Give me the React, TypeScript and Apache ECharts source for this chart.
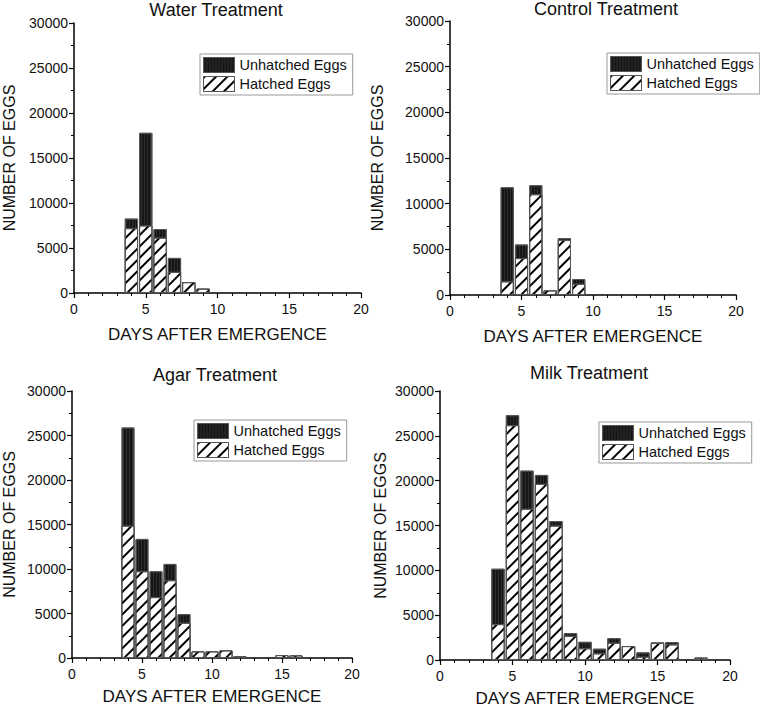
import React, { useEffect, useRef } from "react";
import * as echarts from "echarts";

const titles = ["Water Treatment", "Control Treatment", "Agar Treatment", "Milk Treatment"];
const legendNames = ["Unhatched Eggs", "Hatched Eggs"];
const yTicks = [0, 5000, 10000, 15000, 20000, 25000, 30000];
const xTicks = [0, 5, 10, 15, 20];

const waterDays = [4, 5, 6, 7, 8, 9];
const waterHatched = [7200, 7500, 6150, 2350, 1200, 480];
const waterUnhatched = [1070, 10300, 960, 1550, 0, 0];

const controlDays = [4, 5, 6, 7, 8, 9];
const controlHatched = [1490, 4040, 11030, 500, 6040, 1230];
const controlUnhatched = [10310, 1490, 990, 0, 190, 520];

const agarDays = [4, 5, 6, 7, 8, 9, 10, 11, 12, 15, 16];
const agarHatched = [14870, 9750, 6840, 8740, 3960, 740, 740, 850, 0, 330, 290];
const agarUnhatched = [11030, 3630, 2910, 1830, 970, 0, 0, 0, 220, 0, 0];

const milkDays = [4, 5, 6, 7, 8, 9, 10, 11, 12, 13, 14, 15, 16, 18];
const milkHatched = [4000, 26190, 16870, 19640, 14980, 2700, 1300, 740, 1920, 1550, 370, 1900, 1740, 260];
const milkUnhatched = [6180, 1110, 4250, 1000, 520, 300, 730, 520, 520, 0, 480, 60, 260, 0];

const panelData = [
  { days: waterDays, hatched: waterHatched, unhatched: waterUnhatched },
  { days: controlDays, hatched: controlHatched, unhatched: controlUnhatched },
  { days: agarDays, hatched: agarHatched, unhatched: agarUnhatched },
  { days: milkDays, hatched: milkHatched, unhatched: milkUnhatched },
];

// layout (pixels)
const layouts = [
  { left: 72, top: 23, width: 289, height: 270, titleX: 216, titleY: 1, yGap: 57, xGap: 33, legendX: 200, legendY: 54 },
  { left: 450, top: 21, width: 286, height: 274, titleX: 606, titleY: 0, yGap: 65, xGap: 33, legendX: 607, legendY: 53 },
  { left: 70, top: 391, width: 282, height: 267, titleX: 215, titleY: 366, yGap: 55, xGap: 30, legendX: 194, legendY: 420 },
  { left: 440, top: 391, width: 290, height: 270, titleX: 589, titleY: 364, yGap: 52, xGap: 30, legendX: 599, legendY: 422 },
];

const FONT = "'Liberation Sans', Arial, sans-serif";
const TEXT = "#111";

const hatchDecal = {
  symbol: "rect",
  symbolSize: 1,
  dashArrayX: [1, 0],
  dashArrayY: [1.3, 5.2],
  rotation: -Math.PI / 4,
  color: "#000",
};
const darkDecal = {
  symbol: "rect",
  symbolSize: 1,
  dashArrayX: [1, 2],
  dashArrayY: [1, 0],
  rotation: 0,
  color: "#2e2e2e",
};

export default function App() {
  const ref = useRef<HTMLDivElement>(null);
  useEffect(() => {
    if (!ref.current) return;
    const chart = echarts.init(ref.current, null, { renderer: "svg" });
    const grid: any[] = [];
    const xAxis: any[] = [];
    const yAxis: any[] = [];
    const series: any[] = [];
    const title: any[] = [];
    const legend: any[] = [];
    layouts.forEach((L, i) => {
      const d = panelData[i];
      grid.push({ left: L.left, top: L.top, width: L.width, height: L.height, containLabel: false });
      xAxis.push({
        type: "value",
        gridIndex: i,
        min: xTicks[0],
        max: xTicks[xTicks.length - 1],
        interval: 5,
        name: "DAYS AFTER EMERGENCE",
        nameLocation: "middle",
        nameGap: L.xGap,
        nameTextStyle: { fontFamily: FONT, fontSize: 17, color: TEXT, verticalAlign: "top" },
        axisLine: { show: true, onZero: false, lineStyle: { color: "#000", width: 1.5 } },
        axisTick: { show: true, length: 5, lineStyle: { color: "#000", width: 1.2 } },
        minorTick: { show: true, splitNumber: 5, length: 3, lineStyle: { color: "#000", width: 1 } },
        splitLine: { show: false },
        axisLabel: { fontFamily: FONT, fontSize: 14, color: TEXT, margin: 9 },
      });
      yAxis.push({
        type: "value",
        gridIndex: i,
        min: yTicks[0],
        max: yTicks[yTicks.length - 1],
        interval: 5000,
        name: "NUMBER OF EGGS",
        nameLocation: "middle",
        nameRotate: 90,
        nameGap: L.yGap,
        nameTextStyle: { fontFamily: FONT, fontSize: 16, color: TEXT },
        axisLine: { show: true, onZero: false, lineStyle: { color: "#000", width: 1.5 } },
        axisTick: { show: true, length: 5, lineStyle: { color: "#000", width: 1.2 } },
        minorTick: { show: true, splitNumber: 2, length: 3, lineStyle: { color: "#000", width: 1 } },
        splitLine: { show: false },
        axisLabel: { fontFamily: FONT, fontSize: 14, color: TEXT, margin: 6, formatter: (v: number) => String(v) },
      });
      const bw = (L.width / 20) * 0.92;
      // total bar (dark, unhatched on top) drawn first, hatched part overlaid from zero
      series.push({
        name: legendNames[0],
        type: "bar",
        xAxisIndex: i,
        yAxisIndex: i,
        barWidth: bw,
        barGap: "-100%",
        z: 2,
        data: d.days.map((x, k) => [x, d.hatched[k] + d.unhatched[k]]),
        itemStyle: { color: "#161616", borderColor: "#555", borderWidth: 1, decal: darkDecal },
      });
      series.push({
        name: legendNames[1],
        type: "bar",
        xAxisIndex: i,
        yAxisIndex: i,
        barWidth: bw,
        barGap: "-100%",
        z: 3,
        data: d.days.map((x, k) => [x, d.hatched[k] > 0 ? d.hatched[k] : null]),
        itemStyle: { color: "#fff", borderColor: "#555", borderWidth: 1, decal: hatchDecal },
      });
      title.push({
        text: titles[i],
        left: L.titleX,
        top: L.titleY,
        textAlign: "center",
        padding: 0,
        textStyle: { fontFamily: FONT, fontSize: 18, fontWeight: "normal", color: TEXT },
      });
      legend.push({
        data: legendNames,
        orient: "vertical",
        left: L.legendX,
        top: L.legendY,
        padding: [3, 6, 3, 3],
        itemGap: 3,
        itemWidth: 31,
        itemHeight: 15,
        borderColor: "#999",
        borderWidth: 1,
        backgroundColor: "#fff",
        selectedMode: false,
        icon: "rect",
        textStyle: { fontFamily: FONT, fontSize: 14.5, color: TEXT, padding: [0, 0, 0, 0] },
        itemStyle: { borderColor: "#555", borderWidth: 1 },
      });
    });
    chart.setOption({
      animation: false,
      backgroundColor: "#fff",
      aria: { enabled: false },
      title,
      legend,
      grid,
      xAxis,
      yAxis,
      series,
    });
    return () => chart.dispose();
  }, []);
  return (
    <div
      ref={ref}
      style={{ position: "absolute", left: 0, top: 0, width: 760, height: 708 }}
    />
  );
}
